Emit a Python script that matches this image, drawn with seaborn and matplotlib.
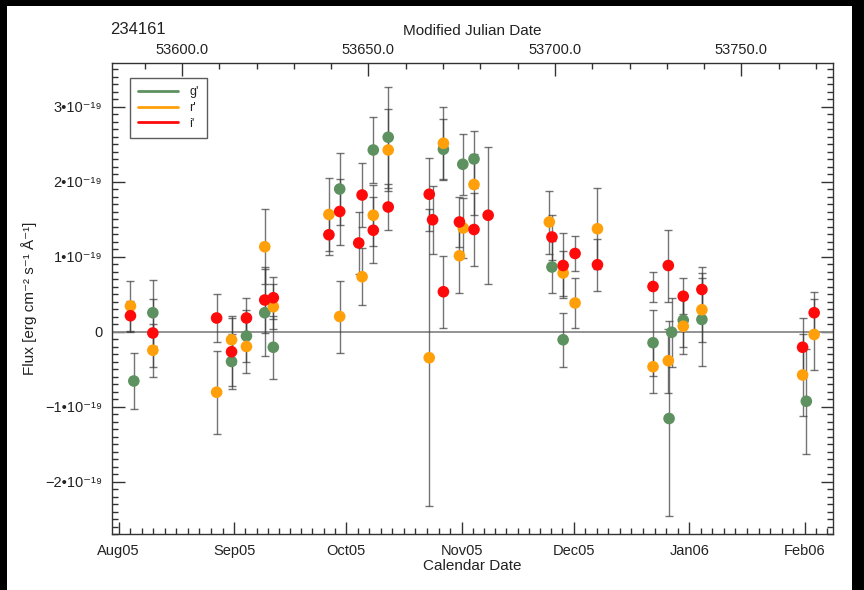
import numpy as np
import pandas as pd
import matplotlib
matplotlib.use("Agg")
import matplotlib.pyplot as plt
import seaborn as sns
from matplotlib.lines import Line2D
from matplotlib.ticker import FixedLocator, MultipleLocator, FuncFormatter
from matplotlib.patches import Rectangle

# ---------------- data (flux in units of 1e-19 erg cm^-2 s^-1 A^-1) ----------------
object_id = "234161"
bands = ["g'", "r'", "i'"]
band_colors = ["#5e9160", "#ffa00a", "#ff0a0a"]

g_mjd = [53587.1, 53592.2, 53613.3, 53617.3, 53622.2, 53624.5, 53642.3, 53651.3, 53655.3,
         53670.1, 53675.3, 53678.3, 53699.2, 53702.2, 53726.3, 53730.6, 53731.3, 53734.4,
         53739.4, 53767.4]
g_flux = [-0.66, 0.25, -0.40, -0.06, 0.25, -0.21, 1.90, 2.42, 2.59,
          2.43, 2.23, 2.30, 0.86, -0.11, -0.15, -1.16, -0.01, 0.15,
          0.16, -0.93]
g_err = [0.37, 0.44, 0.37, 0.35, 0.58, 0.42, 0.48, 0.44, 0.67,
         0.41, 0.41, 0.38, 0.35, 0.36, 0.44, 1.30, 0.46, 0.36,
         0.62, 0.70]

r_mjd = [53586.2, 53592.2, 53609.3, 53613.3, 53617.3, 53622.2, 53624.5, 53639.4, 53642.3,
         53648.3, 53651.3, 53655.3, 53666.3, 53670.1, 53675.4, 53674.4, 53678.3, 53698.5,
         53702.2, 53705.4, 53711.4, 53726.3, 53730.4, 53734.4, 53739.4, 53766.4, 53769.5]
r_flux = [0.34, -0.25, -0.81, -0.11, -0.20, 1.13, 0.33, 1.56, 0.20,
          0.73, 1.55, 2.42, -0.35, 2.51, 1.38, 1.01, 1.96, 1.46,
          0.78, 0.38, 1.37, -0.47, -0.39, 0.07, 0.29, -0.58, -0.04]
r_err = [0.34, 0.35, 0.55, 0.32, 0.35, 0.50, 0.30, 0.49, 0.48,
         0.38, 0.41, 0.55, 1.98, 0.48, 0.40, 0.50, 0.41, 0.42,
         0.30, 0.33, 0.54, 0.35, 0.43, 0.37, 0.43, 0.55, 0.47]

i_mjd = [53586.2, 53592.2, 53609.3, 53613.3, 53617.3, 53622.2, 53624.5, 53639.4, 53642.3,
         53647.4, 53648.3, 53651.3, 53655.3, 53666.3, 53667.2, 53670.1, 53674.4, 53678.3,
         53682.1, 53699.2, 53702.2, 53705.4, 53711.4, 53726.3, 53730.4, 53734.4, 53739.4,
         53766.4, 53769.5]
i_flux = [0.21, -0.02, 0.18, -0.27, 0.18, 0.42, 0.45, 1.29, 1.60,
          1.18, 1.82, 1.35, 1.66, 1.83, 1.49, 0.53, 1.46, 1.36,
          1.55, 1.26, 0.88, 1.04, 0.89, 0.60, 0.88, 0.47, 0.56,
          -0.21, 0.25]
i_err = [0.20, 0.45, 0.32, 0.45, 0.27, 0.44, 0.28, 0.27, 0.44,
         0.41, 0.43, 0.44, 0.31, 0.49, 0.45, 0.48, 0.33, 0.49,
         0.91, 0.30, 0.43, 0.23, 0.35, 0.20, 0.48, 0.24, 0.30,
         0.39, 0.28]

flux_unit = 1e-19
y_tick_values = [-2, -1, 0, 1, 2, 3]
mjd_tick_values = [53600.0, 53650.0, 53700.0, 53750.0]
month_labels = ["Aug05", "Sep05", "Oct05", "Nov05", "Dec05", "Jan06", "Feb06"]
month_mjd = [53583, 53614, 53644, 53675, 53705, 53736, 53767]

# ---------------- build table ----------------
frames = []
for b, m, f, e in zip(bands, [g_mjd, r_mjd, i_mjd], [g_flux, r_flux, i_flux], [g_err, r_err, i_err]):
    frames.append(pd.DataFrame({"band": b, "mjd": m,
                                "flux": np.array(f) * flux_unit,
                                "err": np.array(e) * flux_unit}))
df = pd.concat(frames, ignore_index=True)

# ---------------- style ----------------
sns.set_theme(style="white")
plt.rcParams["font.family"] = ["Liberation Sans", "DejaVu Sans"]
plt.rcParams["axes.edgecolor"] = "#333333"
plt.rcParams["axes.linewidth"] = 1.0

fig = plt.figure(figsize=(8.64, 5.90), dpi=100, facecolor="black")
bg = Rectangle((7 / 864, 0), (852 - 7) / 864, 1 - 6 / 590,
               transform=fig.transFigure, facecolor="white", edgecolor="none", zorder=-10)
fig.add_artist(bg)
ax = fig.add_axes([112 / 864, 1 - 534 / 590, (833 - 112) / 864, (534 - 63) / 590])
ax.set_zorder(2)
ax.set_facecolor("white")

ax.axhline(0, color="#8a8a8a", lw=1.3, zorder=1)

palette = dict(zip(bands, band_colors))
for b in bands:
    sub = df[df.band == b]
    ax.errorbar(sub.mjd, sub.flux, yerr=sub.err, fmt="none", ecolor="#3a3a3a",
                elinewidth=1.0, capsize=3.2, capthick=1.0, alpha=0.7, zorder=2)
for k, b in enumerate(bands):
    sub = df[df.band == b]
    sns.scatterplot(data=sub, x="mjd", y="flux", color=palette[b], s=70,
                    edgecolor="none", linewidth=0, ax=ax, legend=False, zorder=3 + k)

ax.set_xlim(53581.25, 53774.55)
ax.set_ylim(-2.70e-19, 3.58e-19)

# y axis
ax.yaxis.set_major_locator(FixedLocator([v * flux_unit for v in y_tick_values]))
ax.yaxis.set_minor_locator(MultipleLocator(0.1 * flux_unit))

def yfmt(v, pos):
    n = int(round(v / flux_unit))
    if n == 0:
        return "0"
    s = str(abs(n))
    return ("\u2212" if n < 0 else "") + s + "\u202210\u207b\u00b9\u2079"

ax.yaxis.set_major_formatter(FuncFormatter(yfmt))

# bottom axis (calendar)
ax.xaxis.set_major_locator(FixedLocator(month_mjd))
ax.set_xticklabels(month_labels)
minor = []
for a, b2 in zip(month_mjd[:-1], month_mjd[1:]):
    minor.extend(np.linspace(a, b2, 11)[1:-1])
minor.extend(np.arange(month_mjd[0] - 3.0, 53581.25, -3.0))
minor.extend(np.arange(month_mjd[-1] + 3.0, 53774.55, 3.0))
ax.xaxis.set_minor_locator(FixedLocator(minor))

ax.tick_params(axis="both", which="major", direction="in", length=9, width=1,
               color="#333333", labelsize=10.5, labelcolor="#222222", pad=7)
ax.tick_params(axis="both", which="minor", direction="in", length=4.5, width=1,
               color="#333333")
ax.tick_params(axis="y", which="both", left=True, right=True)
ax.tick_params(axis="x", which="both", bottom=True, top=False)
ax.set_xlabel("Calendar Date", fontsize=11, color="#222222", labelpad=1)
ax.set_ylabel("Flux [erg cm\u207b\u00b2 s\u207b\u00b9 \u00c5\u207b\u00b9]", fontsize=11,
              color="#222222", labelpad=6)

# top axis (MJD)
top = ax.twiny()
top.set_xlim(ax.get_xlim())
top.xaxis.set_major_locator(FixedLocator(mjd_tick_values))
top.xaxis.set_major_formatter(FuncFormatter(lambda v, p: f"{v:.1f}"))
top.xaxis.set_minor_locator(MultipleLocator(10))
top.tick_params(axis="x", which="major", direction="in", length=9, width=1,
                color="#333333", labelsize=10.5, labelcolor="#222222", pad=4)
top.tick_params(axis="x", which="minor", direction="in", length=4.5, width=1, color="#333333")
top.set_xlabel("Modified Julian Date", fontsize=11, color="#222222", labelpad=6)
for sp in top.spines.values():
    sp.set_visible(False)

fig.text(110 / 864, 1 - 30 / 590, object_id, fontsize=12, color="#222222",
         ha="left", va="center")

handles = [Line2D([0], [0], color=c, lw=2) for c in band_colors]
leg = ax.legend(handles, bands, loc="upper left", bbox_to_anchor=(0.025, 0.968),
                borderaxespad=0, frameon=True, fancybox=False, edgecolor="#333333",
                fontsize=9, handlelength=3.2, handletextpad=0.9, borderpad=0.65,
                labelspacing=0.3, markerfirst=True)
leg.get_frame().set_linewidth(1.0)
for t in leg.get_texts():
    t.set_color("#222222")

fig.savefig("out.png", dpi=100, facecolor=fig.get_facecolor())
